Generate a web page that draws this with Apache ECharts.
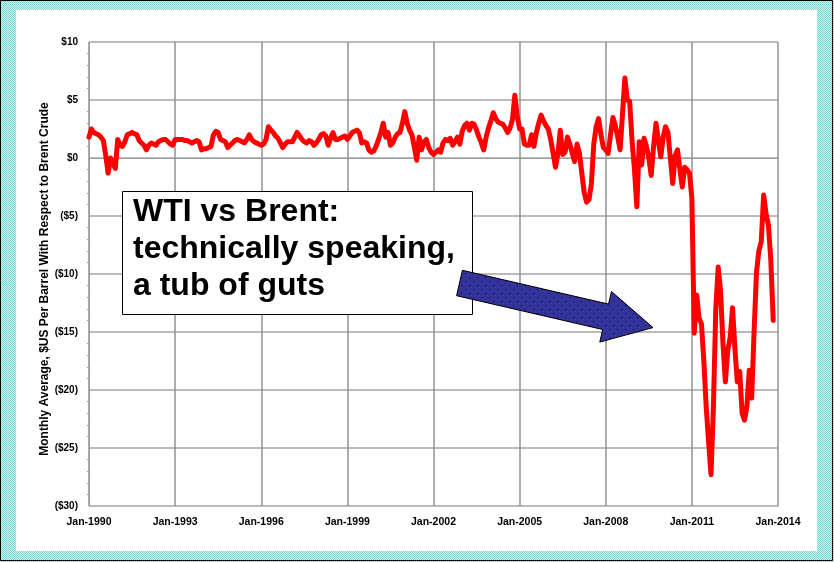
<!DOCTYPE html>
<html>
<head>
<meta charset="utf-8">
<script src="https://cdn.jsdelivr.net/npm/echarts@6/dist/echarts.min.js"></script>
<style>
html,body{margin:0;padding:0;background:#fff;}
#chart{width:834px;height:562px;}
</style>
</head>
<body>
<div id="chart"></div>
<script>
// Monthly WTI minus Brent spread, $US per barrel, Jan-1990 onward
const startYear = 1990;
const spread = [
 1.8, 2.5, 2.2, 2.1, 2.0, 1.8, 1.5, 0.2,-1.3, 0.0,-0.5,-0.9,
 1.6, 1.1, 1.0, 1.4, 2.0, 2.1, 2.2, 2.1, 2.0, 1.5, 1.3, 1.1,
 0.7, 1.1, 1.3, 1.2, 1.1, 1.4, 1.5, 1.6, 1.6, 1.4, 1.2, 1.1,
 1.6, 1.6, 1.6, 1.6, 1.5, 1.5, 1.4, 1.3, 1.4, 1.5, 1.4, 0.7,
 0.8, 0.8, 0.9, 1.0, 2.0, 2.3, 2.2, 1.6, 1.5, 1.4, 0.9, 1.1,
 1.3, 1.5, 1.6, 1.5, 1.4, 1.3, 1.6, 2.0, 1.6, 1.4, 1.3, 1.2,
 1.1, 1.2, 1.6, 2.7, 2.4, 2.2, 1.9, 1.7, 1.3, 0.9, 1.2, 1.4,
 1.4, 1.4, 1.8, 2.2, 1.9, 1.6, 1.4, 1.3, 1.5, 1.4, 1.1, 1.3,
 1.6, 2.0, 2.1, 1.9, 1.1, 1.7, 2.2, 1.6, 1.6, 1.7, 1.8, 1.9,
 1.6, 1.9, 2.2, 2.3, 2.4, 2.2, 1.3, 1.4, 1.3, 0.7, 0.5, 0.6,
 1.0, 1.6, 2.2, 3.0, 1.8, 2.2, 1.1, 1.3, 1.8, 2.1, 2.2, 3.0,
 4.0, 3.0, 2.4, 2.0, 0.9,-0.2, 1.8, 0.7, 1.4, 1.6, 0.9, 0.5,
 0.3, 0.5, 0.7, 0.5, 1.3, 1.6, 1.5, 1.7, 1.1, 1.4, 1.8, 1.2,
 2.3, 2.8, 3.0, 2.4, 3.0, 2.9, 2.4, 1.8, 1.3, 0.7, 1.8, 2.6,
 3.2, 3.9, 3.4, 3.1, 3.0, 2.9, 2.6, 2.2, 2.6, 3.3, 5.4, 3.6,
 2.5, 2.5, 1.2, 1.1, 1.1, 2.0, 1.0, 2.2, 3.0, 3.7, 3.2, 2.8,
 2.5, 1.6, 0.4,-0.8, 0.4, 2.4, 0.3, 0.5, 1.8, 1.2, 0.4,-0.3,
 1.2, 0.4,-1.3,-3.0,-3.8,-3.6,-2.2, 1.2, 2.7, 3.4, 2.0, 0.9,
 0.7, 0.4, 2.0, 3.5, 2.8, 1.8, 0.7, 3.8, 6.9, 5.0, 4.9, 1.5,
-1.0,-4.2, 1.4,-0.6, 1.7, 1.0, 0.0,-1.5, 1.0, 3.0, 1.5, 0.1,
 1.8, 2.7, 2.2, 0.0,-2.2, 0.2, 0.7,-1.0,-2.5,-0.8,-1.0,-1.3,
-3.5,-15.1,-11.8,-13.8,-14.3,-17.5,-21.5,-24.5,-27.3,-21.5,-13.0,-9.4,
-11.5,-16.0,-19.3,-16.6,-15.5,-12.9,-16.5,-19.3,-18.4,-22.0,-22.6,-21.4,
-18.3,-20.7,-15.0,-9.9,-8.0,-7.2,-3.2,-4.8,-5.8,-8.8,-14.0
];
const xTickYears = [1990, 1993, 1996, 1999, 2002, 2005, 2008, 2011, 2014];
const yTicks = [10, 5, 0, -5, -10, -15, -20, -25, -30];
const yAxisTitle = 'Monthly Average, $US Per Barrel With Respect to Brent Crude';
const noteLines = ['WTI vs Brent:', 'technically speaking,', 'a tub of guts'];

function makePattern(c1, c2) {
  const cv = document.createElement('canvas');
  cv.width = 2; cv.height = 2;
  const ctx = cv.getContext('2d');
  ctx.fillStyle = c2; ctx.fillRect(0, 0, 2, 2);
  ctx.fillStyle = c1; ctx.fillRect(0, 0, 1, 1); ctx.fillRect(1, 1, 1, 1);
  return cv;
}
function makeDots() {
  const cv = document.createElement('canvas');
  cv.width = 8; cv.height = 8;
  const ctx = cv.getContext('2d');
  ctx.fillStyle = '#333399'; ctx.fillRect(0, 0, 8, 8);
  ctx.fillStyle = '#0a0a40'; ctx.fillRect(1, 1, 1, 1); ctx.fillRect(5, 5, 1, 1);
  return cv;
}

const FONT = "'Liberation Sans', Arial, sans-serif";
const chart = echarts.init(document.getElementById('chart'), null, {renderer: 'canvas'});
const minM = (xTickYears[0] - startYear) * 12;
const maxM = (xTickYears[xTickYears.length - 1] - startYear) * 12;

chart.setOption({
  animation: false,
  backgroundColor: '#ffffff',
  grid: {left: 89, right: 56, top: 42, bottom: 56},
  xAxis: {
    type: 'value', min: minM, max: maxM, interval: 36,
    axisLine: {show: true, lineStyle: {color: '#999', type: 'dotted', width: 1}},
    axisTick: {show: false},
    axisLabel: {
      margin: 11, color: '#000', fontFamily: FONT, fontWeight: 'bold', fontSize: 10.5,
      formatter: v => 'Jan-' + (startYear + v / 12)
    },
    splitLine: {show: true, lineStyle: {color: '#929292', width: 1.5}}
  },
  yAxis: {
    type: 'value', min: yTicks[yTicks.length - 1], max: yTicks[0], interval: 5,
    name: yAxisTitle, nameLocation: 'middle', nameGap: 38, nameMoveOverlap: false,
    nameTextStyle: {color: '#000', fontFamily: FONT, fontWeight: 'bold', fontSize: 12, padding: [0, 10, 0, 0]},
    axisLine: {show: true, lineStyle: {color: '#999', type: 'dotted', width: 1}},
    axisTick: {show: false},
    minorTick: {show: true, splitNumber: 5, length: 2, lineStyle: {color: '#999'}},
    axisLabel: {
      margin: 11, color: '#000', fontFamily: FONT, fontWeight: 'bold', fontSize: 10,
      formatter: v => v < 0 ? '($' + (-v) + ')' : '$' + v
    },
    splitLine: {show: true, lineStyle: {color: '#a4a4a4', width: 1.5}}
  },
  series: [{
    type: 'line',
    data: spread.map((v, i) => [i, v]),
    showSymbol: false,
    symbol: 'none',
    lineStyle: {color: '#ff0000', width: 5, join: 'round', cap: 'round'},
    z: 5
  }],
  graphic: {elements: [
    {type: 'rect', z: -100, silent: true, shape: {x: 0, y: 0, width: 834, height: 562},
     style: {fill: {image: makePattern('#86cfcf', '#d6f1f1'), repeat: 'repeat'}, stroke: 'none'}},
    {type: 'rect', z: -99, silent: true, shape: {x: 0.5, y: 0.5, width: 832, height: 560},
     style: {fill: 'none', stroke: '#000', lineWidth: 1}},
    {type: 'rect', z: -98, silent: true, shape: {x: 16, y: 10, width: 801, height: 541},
     style: {fill: '#fff', stroke: 'none'}},
    {type: 'rect', z: 100, silent: true, shape: {x: 122.5, y: 191.5, width: 350, height: 123},
     style: {fill: '#fff', stroke: '#000', lineWidth: 1}},
    {type: 'text', z: 101, silent: true, x: 133, y: 194,
     style: {text: noteLines.join('\n'), font: 'bold 32px ' + FONT, fill: '#000', lineHeight: 37,
             textVerticalAlign: 'top', textAlign: 'left'}},
    {type: 'polygon', z: 102, silent: true,
     shape: {points: [[462.4, 270.3], [608.5, 304.1], [611.5, 291.5], [653, 327.6], [599.8, 342.1], [602.7, 329.5], [456.6, 295.7]]},
     style: {fill: {image: makeDots(), repeat: 'repeat'}, stroke: '#000', lineWidth: 1}}
  ]}
});
</script>
</body>
</html>
